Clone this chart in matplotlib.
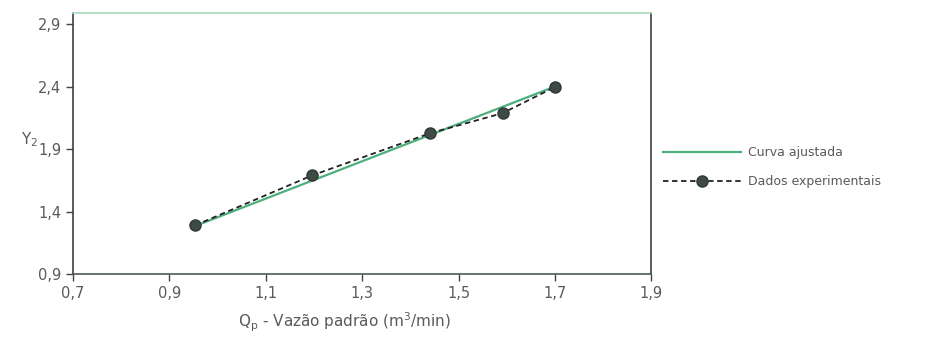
import matplotlib
matplotlib.use('Agg')
import matplotlib.pyplot as plt

# vazao padrao (m3/min) vs Y2
vazao = [0.953, 1.196, 1.441, 1.591, 1.699]
y2 = [1.29, 1.69, 2.028, 2.188, 2.396]

# curva ajustada (reta), extremos
ajuste_x = [0.953, 1.699]
ajuste_y = [1.285, 2.40]

xticks = [0.7, 0.9, 1.1, 1.3, 1.5, 1.7, 1.9]
xtick_labels = ['0,7', '0,9', '1,1', '1,3', '1,5', '1,7', '1,9']
yticks = [0.9, 1.4, 1.9, 2.4, 2.9]
ytick_labels = ['0,9', '1,4', '1,9', '2,4', '2,9']

plt.rcParams['font.family'] = ['DejaVu Sans']
texto = '#5a5a5a'

fig = plt.figure(figsize=(9.36, 3.41), dpi=100)
ax = fig.add_axes([0.078, 0.196, 0.618, 0.766])

ax.plot(ajuste_x, ajuste_y, color='#4caf7d', lw=1.6, label='Curva ajustada', zorder=2)
ax.plot(vazao, y2, color='#222222', ls=(0, (3, 2)), lw=1.3, marker='o',
        markersize=8, markerfacecolor='#3d4a46', markeredgecolor='#2f3a37',
        label='Dados experimentais', zorder=3)

ax.set_xlim(0.7, 1.9)
ax.set_ylim(0.9, 2.99)
ax.set_xticks(xticks)
ax.set_xticklabels(xtick_labels)
ax.set_yticks(yticks)
ax.set_yticklabels(ytick_labels)
ax.tick_params(colors='#444444', labelcolor=texto, labelsize=10.5, length=5, width=1)

for s in ['left', 'right']:
    ax.spines[s].set_color('#3a3f4a')
ax.spines['bottom'].set_color('#4a5a55')
ax.spines['top'].set_color('#a8dcb8')
for s in ax.spines.values():
    s.set_linewidth(1.2)

ax.set_xlabel('Q$_\\mathregular{p}$ - Vazão padrão (m$^\\mathregular{3}$/min)',
              color=texto, fontsize=11)
ax.xaxis.set_label_coords(0.47, -0.14)
ax.set_ylabel('Y$_\\mathregular{2}$', color=texto, fontsize=11, rotation=0)
ax.yaxis.set_label_coords(-0.075, 0.48)

ax.legend(loc='center left', bbox_to_anchor=(1.0, 0.41), frameon=False,
          fontsize=9, labelcolor=texto, handlelength=6.3, handletextpad=0.5,
          labelspacing=1.3)

fig.savefig('out.png', dpi=100, facecolor='white')
